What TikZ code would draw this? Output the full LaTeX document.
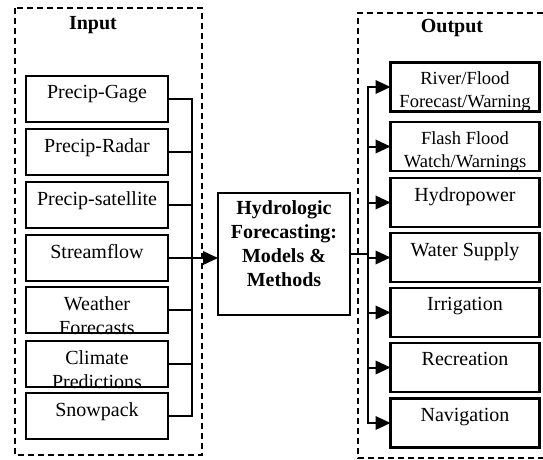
\documentclass[tikz,border=0pt]{standalone}
\usepackage{fontspec}
\setmainfont{Liberation Serif}
\usepackage{tikz}
\usetikzlibrary{calc}
\usetikzlibrary{arrows.meta}
\newcommand{\bx}{\fontsize{20}{24}\selectfont}
\newcommand{\sx}{\fontsize{18.5}{23}\selectfont}

\begin{document}
\begin{tikzpicture}[x=1pt,y=-1pt,every node/.style={inner sep=0,outer sep=0},
    ib/.style={draw,line width=2.2pt,minimum width=142pt,minimum height=46pt},
    ob/.style={draw,line width=2.2pt,minimum width=149pt,minimum height=49pt},
    tx/.style={anchor=north,align=center,font=\bx,yshift=-9.5pt},
    ln/.style={line width=2pt,line cap=rect},
    ar/.style={ln,-{Triangle[length=15pt,width=13.5pt]}},
    ds/.style={line width=1.3pt,dash pattern=on 6pt off 4pt}]
    \useasboundingbox (0,0) rectangle (543,460);
    \draw[ds] (15,8) rectangle (202,455);
    \draw[ds] (543,13) -- (358,13) -- (358,458) -- (543,458);
    \coordinate (lb) at (192,0);
    \coordinate (rb) at (368,0);

    \node[font=\bfseries\bx](inp) at (93,25) {Input};
    \node[ib,label={[tx]north:Precip-Gage}](i1) at (97,99) {};
    \node[ib,label={[tx]north:Precip-Radar}](i2) at (97,152) {}; \draw[ln] (i2.east) -- (i2.east -| lb);
    \node[ib,label={[tx]north:Precip-satellite}](i3) at (97,205) {}; \draw[ln] (i3.east) -- (i3.east -| lb);
    \node[ib,label={[tx]north:Streamflow}](i4) at (97,258) {};
    \node[ib,label={[tx]north:Weather\\Forecasts}](i5) at (97,310) {}; \draw[ln] (i5.east) -- (i5.east -| lb);
    \node[ib,label={[tx]north:Climate\\Predictions}](i6) at (97,364) {}; \draw[ln] (i6.east) -- (i6.east -| lb);
    \node[ib,label={[tx]north:Snowpack}](i7) at (97,416) {};
    \draw[ln] (i1.east) -| (lb |- i7.east) -- (i7.east);

    \node[draw,line width=2.2pt,minimum width=132pt,minimum height=122pt,label={[tx,font=\bfseries\bx,yshift=1.5pt]north:Hydrologic\\Forecasting:\\Models \&\\Methods}](hf) at (284,254) {};
    \draw[ar] (i4.east) -- (i4.east -| hf.west);

    \node[font=\bfseries\bx](outp) at (452,28) {Output};
    \node[ob,label={[tx,font=\sx]north:River/Flood\\Forecast/Warning}](o1) at (465,87) {}; \draw[ar] (o1.west -| rb) -- (o1.west);
    \node[ob,label={[tx,font=\sx]north:Flash Flood\\Watch/Warnings}](o2) at (465,146.5) {}; \draw[ar] (o2.west -| rb) -- (o2.west);
    \node[ob,label={[tx]north:Hydropower}](o3) at (465,202.5) {}; \draw[ar] (o3.west -| rb) -- (o3.west);
    \node[ob,label={[tx]north:Water Supply}](o4) at (465,257.5) {}; \draw[ar] (o4.west -| rb) -- (o4.west);
    \node[ob,label={[tx]north:Irrigation}](o5) at (465,312.5) {}; \draw[ar] (o5.west -| rb) -- (o5.west);
    \node[ob,label={[tx]north:Recreation}](o6) at (465,367.5) {}; \draw[ar] (o6.west -| rb) -- (o6.west);
    \node[ob,label={[tx]north:Navigation}](o7) at (465,423) {}; \draw[ar] (o7.west -| rb) -- (o7.west);
    \draw[ln] (o1.west -| rb) -- (o7.west -| rb);
    \draw[ln] (hf.east) -- (hf.east -| rb);
\end{tikzpicture}
\end{document}
